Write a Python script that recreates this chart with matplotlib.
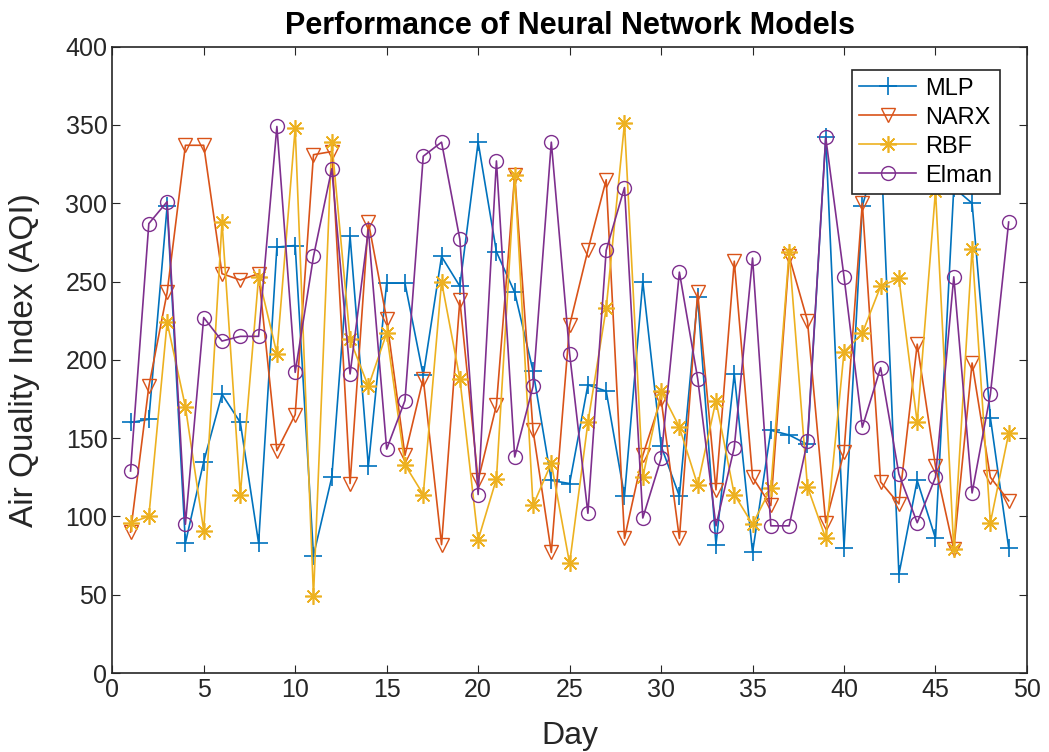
import matplotlib.pyplot as plt

plt.rcParams['font.family'] = ['Liberation Sans', 'DejaVu Sans']

days = list(range(1, 50))

mlp = [160, 162, 298, 83, 135, 178, 160, 83, 272, 273,
       75, 125, 279, 132, 249, 249, 190, 266, 247, 339,
       269, 243, 193, 123, 121, 184, 180, 113, 250, 145,
       113, 240, 82, 191, 77, 155, 152, 146, 342, 80,
       298, 340, 63, 123, 86, 310, 300, 163, 80]
narx = [90, 183, 243, 337, 337, 255, 251, 255, 142, 165,
        331, 333, 121, 288, 226, 139, 188, 82, 238, 123,
        171, 318, 155, 77, 222, 270, 315, 86, 139, 175,
        86, 243, 117, 263, 125, 107, 266, 225, 96, 141,
        300, 122, 108, 210, 132, 79, 198, 125, 110]
rbf = [96, 100, 224, 170, 91, 288, 114, 253, 204, 348,
       49, 339, 213, 183, 217, 133, 114, 250, 188, 85,
       124, 318, 107, 134, 70, 160, 233, 351, 125, 180,
       157, 120, 174, 114, 95, 118, 269, 119, 86, 205,
       217, 247, 252, 160, 308, 79, 271, 96, 153]
elman = [129, 287, 301, 95, 227, 212, 215, 215, 349, 192,
         266, 322, 191, 283, 143, 174, 330, 339, 277, 114,
         327, 138, 183, 339, 204, 102, 270, 310, 99, 137,
         256, 188, 94, 144, 265, 94, 94, 148, 342, 253,
         157, 195, 127, 96, 125, 253, 115, 178, 288]

fig = plt.figure(figsize=(10.49, 7.52), dpi=100)
ax = fig.add_axes([0.107, 0.105, 0.872, 0.833])

ax.plot(days, mlp, color='#0072BD', marker='+', markersize=13, mew=1.2, lw=1.2, label='MLP')
ax.plot(days, narx, color='#D95319', marker='v', markersize=10, mfc='none', lw=1.2, label='NARX')
ax.plot(days, rbf, color='#EDB120', marker=(8, 2, 0), markersize=12, mew=1.2, lw=1.2, label='RBF')
ax.plot(days, elman, color='#7E2F8E', marker='o', markersize=10, mfc='none', lw=1.2, label='Elman')

ax.set_xlim(0, 50)
ax.set_ylim(0, 400)
ax.set_xticks(range(0, 51, 5))
ax.set_yticks(range(0, 401, 50))
ax.tick_params(direction='in', top=True, right=True, labelsize=18, length=6, colors='#262626')
for s in ax.spines.values():
    s.set_linewidth(1.2)
    s.set_color('#262626')

ax.set_xlabel('Day', fontsize=23, labelpad=14, color='#262626')
ax.set_ylabel('Air Quality Index (AQI)', fontsize=24, labelpad=18, color='#262626')
ax.set_title('Performance of Neural Network Models', fontsize=22, fontweight='bold', pad=9)

leg = ax.legend(loc='upper right', bbox_to_anchor=(0.970, 0.962), fontsize=17,
                frameon=True, fancybox=False, edgecolor='#262626', framealpha=1,
                handlelength=2.4, labelspacing=0.3, handletextpad=0.4,
                borderpad=0.3, borderaxespad=0)
leg.get_frame().set_linewidth(1.2)

fig.savefig('out.png', dpi=100)
